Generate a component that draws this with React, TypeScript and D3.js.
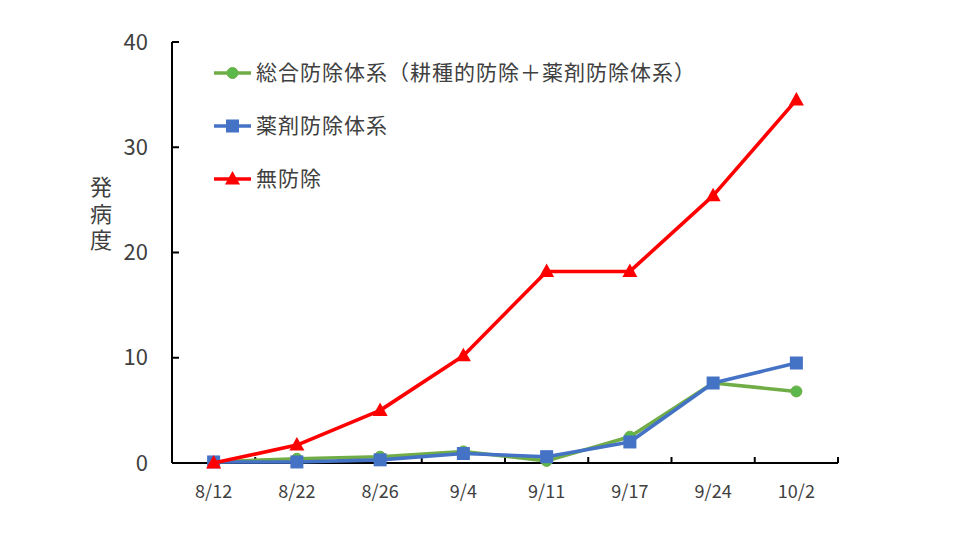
import React from "react";
import * as d3 from "d3";

const categories = ["8/12", "8/22", "8/26", "9/4", "9/11", "9/17", "9/24", "10/2"];
const seriesNames = ["総合防除体系（耕種的防除＋薬剤防除体系）", "薬剤防除体系", "無防除"];
const integrated = [0.1, 0.4, 0.6, 1.1, 0.2, 2.5, 7.6, 6.8];
const chemical = [0.1, 0.1, 0.3, 0.9, 0.6, 2.0, 7.6, 9.5];
const untreated = [0, 1.7, 5.0, 10.2, 18.2, 18.2, 25.4, 34.5];
const yTicks = [0, 10, 20, 30, 40];
const yLabel = "発病度";

const FONT = "'Noto Sans CJK JP', 'Noto Sans', sans-serif";

export default function App() {
  const W = 960, H = 540;
  const x0 = 172, x1 = 838, yTop = 42, yBot = 463;
  const x = d3.scaleBand<string>().domain(categories).range([x0, x1]);
  const y = d3.scaleLinear().domain([0, 40]).range([yBot, yTop]);
  const line = d3
    .line<number>()
    .x((_, i) => (x(categories[i]) as number) + x.bandwidth() / 2)
    .y((d) => y(d));

  const series = [
    { name: seriesNames[0], data: integrated, color: "#70AD47", fill: "#5CB84A", marker: "circle" },
    { name: seriesNames[1], data: chemical, color: "#4472C4", fill: "#4472C4", marker: "square" },
    { name: seriesNames[2], data: untreated, color: "#FF0000", fill: "#FF0000", marker: "triangle" },
  ];

  const marker = (type: string, cx: number, cy: number, color: string, fill: string, key: any) => {
    if (type === "circle") return <circle key={key} cx={cx} cy={cy} r={5.5} fill={fill} stroke={color} strokeWidth={1} />;
    if (type === "square") return <rect key={key} x={cx - 6.5} y={cy - 6.5} width={13} height={13} fill={fill} />;
    return <path key={key} d={`M${cx},${cy - 8}L${cx + 7.5},${cy + 5.5}L${cx - 7.5},${cy + 5.5}Z`} fill={fill} />;
  };

  const legendY = [73, 126, 179];

  return (
    <svg width={W} height={H} style={{ display: "block", position: "absolute", left: 0, top: 0, background: "#fff" }}>
      {/* y axis */}
      <line x1={x0} x2={x0} y1={yTop} y2={yBot} stroke="#000" strokeWidth={2} />
      {yTicks.map((t) => (
        <g key={t}>
          <line x1={x0} x2={x0 + 7} y1={y(t)} y2={y(t)} stroke="#000" strokeWidth={2} />
          <text x={148} y={y(t)} dy="0.35em" textAnchor="end" fontFamily={FONT} fontSize={22} fill="#404040">
            {t}
          </text>
        </g>
      ))}
      {/* x axis */}
      <line x1={x0} x2={x1} y1={yBot} y2={yBot} stroke="#000" strokeWidth={2} />
      {categories.map((c) => (
        <g key={c}>
          <line
            x1={(x(c) as number) + x.bandwidth()}
            x2={(x(c) as number) + x.bandwidth()}
            y1={yBot}
            y2={yBot - 6}
            stroke="#000"
            strokeWidth={2}
          />
          <text
            x={(x(c) as number) + x.bandwidth() / 2}
            y={492}
            dy="0.35em"
            textAnchor="middle"
            fontFamily={FONT}
            fontSize={18}
            fill="#404040"
          >
            {c}
          </text>
        </g>
      ))}
      {/* y label */}
      <text
        x={101}
        y={176}
        fontFamily={FONT}
        fontSize={22}
        fill="#404040"
        style={{ writingMode: "vertical-rl", letterSpacing: "4.5px" }}
      >
        {yLabel}
      </text>
      {/* series */}
      {series.map((s) => (
        <g key={s.name}>
          <path d={line(s.data) as string} fill="none" stroke={s.color} strokeWidth={3.6} strokeLinejoin="round" />
          {s.data.map((v, i) =>
            marker(s.marker, (x(categories[i]) as number) + x.bandwidth() / 2, y(v), s.color, s.fill, i)
          )}
        </g>
      ))}
      {/* legend */}
      {series.map((s, i) => (
        <g key={"lg" + i}>
          <line x1={214} x2={251} y1={legendY[i]} y2={legendY[i]} stroke={s.color} strokeWidth={3.6} />
          {marker(s.marker, 232.5, legendY[i], s.color, s.fill, "m")}
          <text
            x={256}
            y={legendY[i]}
            dy="0.35em"
            fontFamily={FONT}
            fontSize={21}
            fill="#404040"
            style={{ letterSpacing: "1px" }}
          >
            {s.name}
          </text>
        </g>
      ))}
    </svg>
  );
}
